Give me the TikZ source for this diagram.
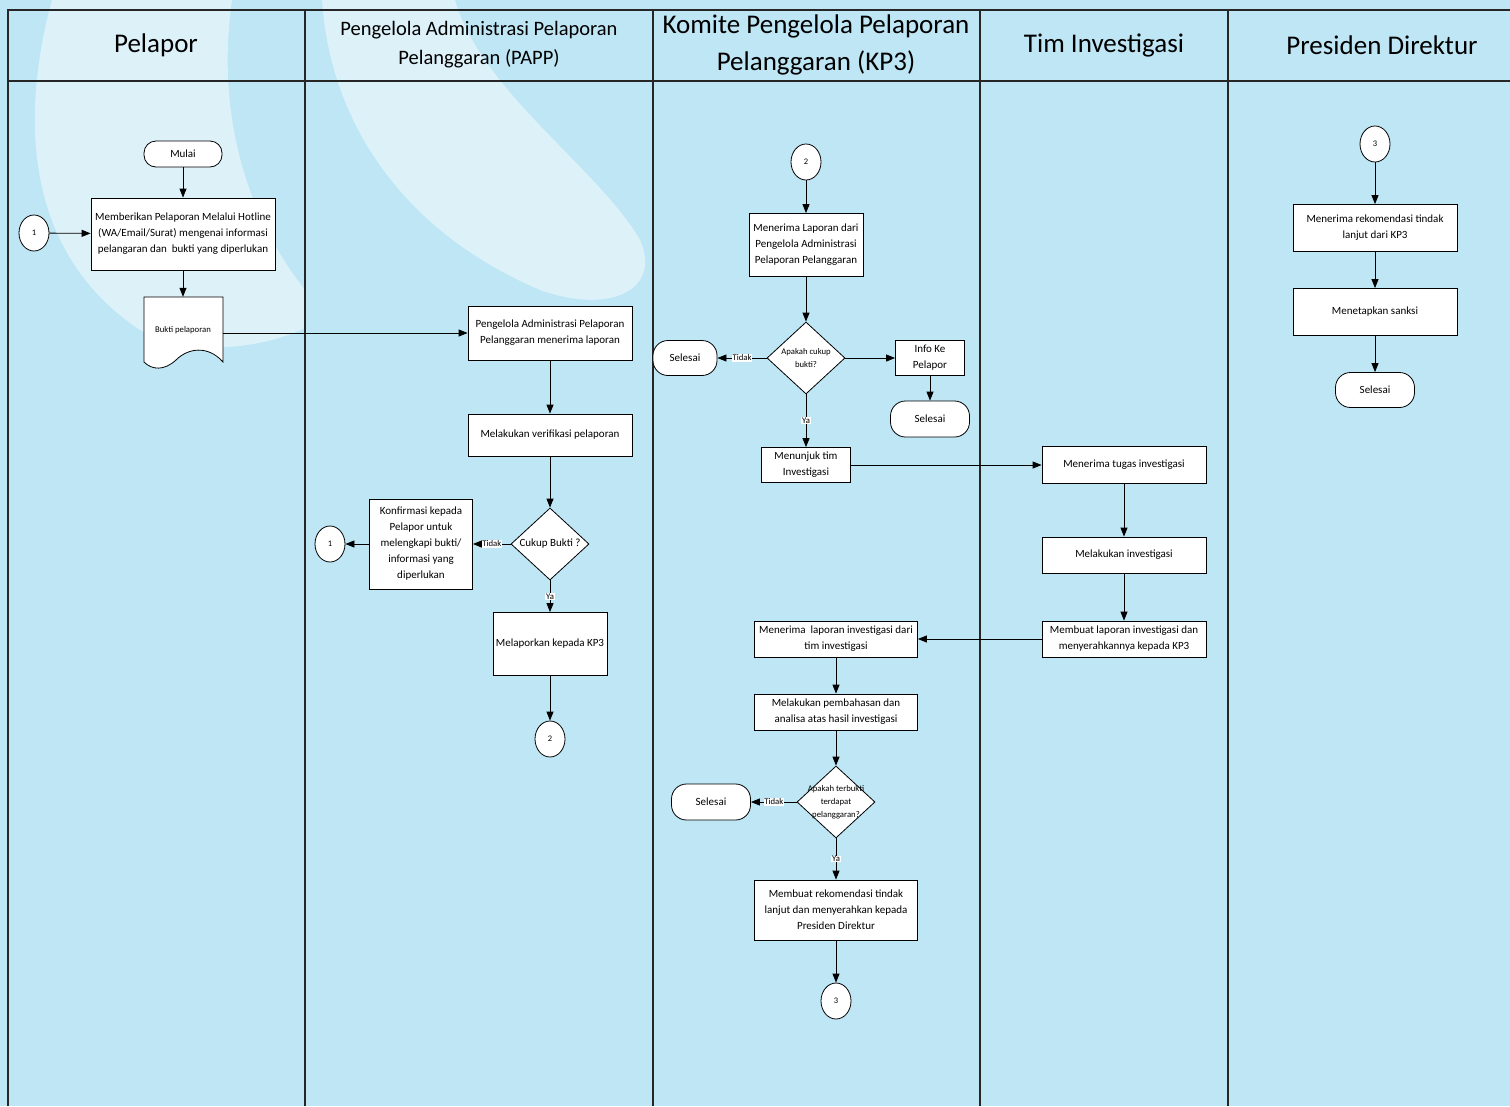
\documentclass[tikz,border=0pt]{standalone}
\usepackage{fontspec}
\setmainfont{Carlito}
\usepackage{tikz}
\usetikzlibrary{positioning,shapes.geometric,arrows.meta}

\definecolor{laneblue}{RGB}{190,230,245}
\definecolor{swirl}{RGB}{221,241,249}

\tikzset{
	proses/.style={draw, fill=white, line width=0.8pt, align=center, inner sep=2pt, font=\fontsize{11}{16}\selectfont},
	ujung/.style={draw, fill=white, rounded corners=12pt, line width=0.8pt, font=\fontsize{11}{16}\selectfont},
	konektor/.style={draw, fill=white, ellipse, minimum width=30, minimum height=36, inner sep=0pt, line width=0.8pt, font=\fontsize{8.5}{10}\selectfont},
	keputusan/.style={draw, fill=white, diamond, minimum width=78, minimum height=72, inner sep=0pt, line width=0.8pt},
	panah/.style={-{Triangle[length=9pt,width=7pt]}, line width=0.8pt},
	ket/.style={fill=white, inner sep=0.6pt, font=\fontsize{8.7}{9}\selectfont},
	judul/.style={align=center, font=\fontsize{27}{37}\selectfont},
	lajur/.style={line width=1.3pt, draw=black!85}
}

\begin{document}
\begin{tikzpicture}[x=1pt,y=-1pt]
\useasboundingbox (0,0) rectangle (1510,1106);
\fill[laneblue] (0,0) rectangle (1510,1106);
\fill[swirl] (52,0) .. controls (22,110) and (20,250) .. (140,330) .. controls (200,360) and (270,345) .. (305,328) -- (305,290) .. controls (250,220) and (215,120) .. (232,0) -- cycle;
\fill[swirl] (322,0) .. controls (330,120) and (400,230) .. (540,290) .. controls (610,315) and (662,290) .. (640,240) .. controls (600,170) and (480,90) .. (455,0) -- cycle;

\draw[lajur] (8,1106) -- (8,10) -- (1510,10);
\draw[lajur] (8,81) -- (1510,81);
\foreach \x in {305,653,980,1228}
	\draw[lajur] (\x,10) -- (\x,1106);

\node[judul] (hPelapor) at (156,45) {Pelapor};
\node[align=center, font=\fontsize{20.5}{29}\selectfont] (hPAPP) at (479,45) {Pengelola Administrasi Pelaporan\\Pelanggaran (PAPP)};
\node[judul] (hKP3) at (816,45) {Komite Pengelola Pelaporan\\Pelanggaran (KP3)};
\node[judul] (hTim) at (1104,45) {Tim Investigasi};
\node[judul] (hPresdir) at (1382,45) {Presiden Direktur};

\draw[line width=0.8pt, fill=white] (144,297) -- (223,297) -- (223,362) .. controls (208,345) and (188,348) .. (176,360) .. controls (164,371) and (152,370) .. (144,362) -- cycle;

\node[ujung, minimum width=78, minimum height=26] (mulai) at (183,154) {Mulai};
\node[konektor] (satuA) at (34,233) {1};
\node[proses, minimum width=184, minimum height=72] (beri) at (183,234) {Memberikan Pelaporan Melalui Hotline\\(WA/Email/Surat) mengenai informasi\\pelangaran dan \ bukti yang diperlukan};
\node[minimum width=79, minimum height=72, font=\fontsize{8.7}{10}\selectfont] (bukti) at (183,333) {\raisebox{8pt}{Bukti pelaporan}};

\node[proses, minimum width=164, minimum height=54] (terima) at (550,333) {Pengelola Administrasi Pelaporan\\Pelanggaran menerima laporan};
\node[proses, minimum width=164, minimum height=42] (verif) at (550,435) {Melakukan verifikasi pelaporan};
\node[keputusan, label={[font=\fontsize{11}{12}\selectfont]center:Cukup Bukti ?}] (cukup) at (550,544) {};
\node[proses, minimum width=103, minimum height=90] (konf) at (421,544) {Konfirmasi kepada\\Pelapor untuk\\melengkapi bukti/\\informasi yang\\diperlukan};
\node[konektor] (satuB) at (330,544) {1};
\node[proses, minimum width=114, minimum height=63] (lapor) at (550,644) {Melaporkan kepada KP3};
\node[konektor] (duaA) at (550,739) {2};

\node[konektor] (duaB) at (806,162) {2};
\node[proses, minimum width=114, minimum height=63] (terimaKP) at (806,245) {Menerima Laporan dari\\Pengelola Administrasi\\Pelaporan Pelanggaran};
\node[keputusan, label={[align=center, font=\fontsize{8.7}{13}\selectfont]center:Apakah cukup\\bukti?}] (apakah) at (806,358) {};
\node[ujung, minimum width=64, minimum height=35, rounded corners=15pt] (selA) at (685,358) {Selesai};
\node[proses, minimum width=69, minimum height=35] (info) at (930,358) {Info Ke\\Pelapor};
\node[ujung, minimum width=79, minimum height=36, rounded corners=15pt] (selB) at (930,419) {Selesai};
\node[proses, minimum width=89, minimum height=35] (tunjuk) at (806,465) {Menunjuk tim\\Investigasi};
\node[proses, minimum width=163, minimum height=36] (terimaLap) at (836,639) {Menerima \ laporan investigasi dari\\tim investigasi};
\node[proses, minimum width=163, minimum height=36] (bahas) at (836,712) {Melakukan pembahasan dan\\analisa atas hasil investigasi};
\node[keputusan, label={[align=center, font=\fontsize{8.7}{13}\selectfont]center:Apakah terbukti\\terdapat\\pelanggaran?}] (terbukti) at (836,802) {};
\node[ujung, minimum width=79, minimum height=36, rounded corners=15pt] (selC) at (711,802) {Selesai};
\node[proses, minimum width=163, minimum height=60] (rekom) at (836,910) {Membuat rekomendasi tindak\\lanjut dan menyerahkan kepada\\Presiden Direktur};
\node[konektor] (tigaA) at (836,1001) {3};

\node[proses, minimum width=164, minimum height=37] (tugas) at (1124,465) {Menerima tugas investigasi};
\node[proses, minimum width=164, minimum height=36] (investigasi) at (1124,555) {Melakukan investigasi};
\node[proses, minimum width=164, minimum height=36] (buat) at (1124,639) {Membuat laporan investigasi dan\\menyerahkannya kepada KP3};

\node[konektor] (tigaB) at (1375,144) {3};
\node[proses, minimum width=164, minimum height=47] (terimaRek) at (1375,228) {Menerima rekomendasi tindak\\lanjut dari KP3};
\node[proses, minimum width=164, minimum height=47] (sanksi) at (1375,312) {Menetapkan sanksi};
\node[ujung, minimum width=79, minimum height=35, rounded corners=15pt] (selD) at (1375,390) {Selesai};

\draw[panah] (mulai) -- (beri);
\draw[panah] (satuA) -- (beri);
\draw[panah] (beri) -- (bukti);
\draw[panah] (bukti) -- (terima);
\draw[panah] (terima) -- (verif);
\draw[panah] (verif) -- (cukup);
\draw[panah] (cukup) -- node[ket] {Tidak} (konf);
\draw[panah] (konf) -- (satuB);
\draw[panah] (cukup) -- node[ket] {Ya} (lapor);
\draw[panah] (lapor) -- (duaA);

\draw[panah] (duaB) -- (terimaKP);
\draw[panah] (terimaKP) -- (apakah);
\draw[panah] (apakah) -- node[ket] {Tidak} (selA);
\draw[panah] (apakah) -- (info);
\draw[panah] (info) -- (selB);
\draw[panah] (apakah) -- node[ket] {Ya} (tunjuk);
\draw[panah] (tunjuk) -- (tugas);
\draw[panah] (tugas) -- (investigasi);
\draw[panah] (investigasi) -- (buat);
\draw[panah] (buat) -- (terimaLap);
\draw[panah] (terimaLap) -- (bahas);
\draw[panah] (bahas) -- (terbukti);
\draw[panah] (terbukti) -- node[ket] {Tidak} (selC);
\draw[panah] (terbukti) -- node[ket] {Ya} (rekom);
\draw[panah] (rekom) -- (tigaA);

\draw[panah] (tigaB) -- (terimaRek);
\draw[panah] (terimaRek) -- (sanksi);
\draw[panah] (sanksi) -- (selD);
\end{tikzpicture}
\end{document}
